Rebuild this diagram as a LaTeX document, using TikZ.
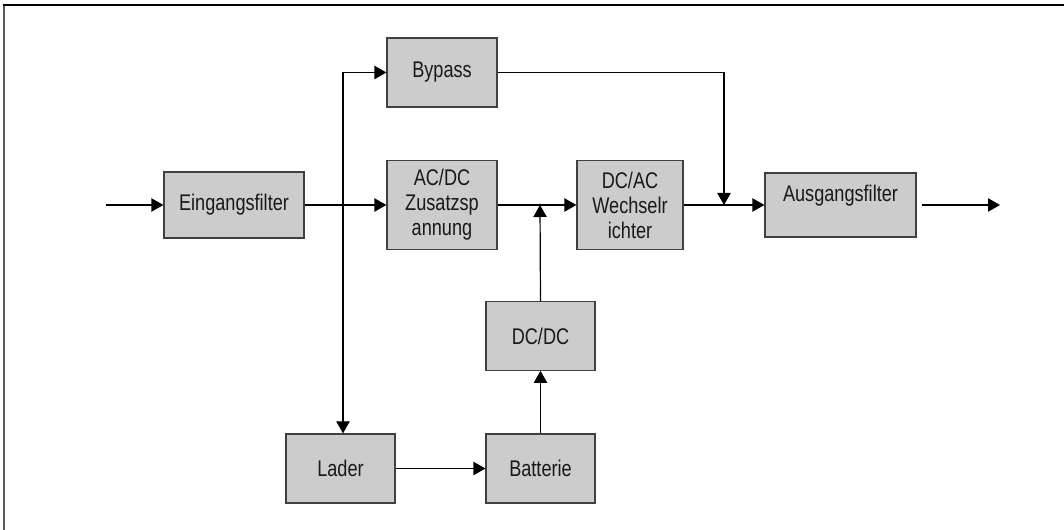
\documentclass[tikz,border=0pt]{standalone}
\usepackage{fontspec}
\setmainfont[FakeStretch=0.8]{Liberation Sans}
\usetikzlibrary{arrows.meta}

\begin{document}
\begin{tikzpicture}[
    x=0.75pt, y=-0.75pt,
    block/.style={draw=black!75, line width=0.9pt, fill=black!20, align=center, text=black!90,
        inner sep=2pt, font=\fontsize{17}{18.75}\selectfont},
    arr/.style={-{Triangle[length=9pt, width=10pt]}, line width=0.9pt},
]
\useasboundingbox (0,0) rectangle (1064,530);
% frame
\draw[line width=2pt, black!65] (4,530) -- (4,5);
\draw[line width=1.5pt] (3,5) -- (1064,5);

\node[block, minimum width=105pt, minimum height=49.5pt] (ein) at (234,205) {Eingangsfilter};
\node[block, minimum width=82.5pt, minimum height=51.75pt] (bypass) at (442,72.5) {Bypass};
\node[block, minimum width=82.5pt, minimum height=66.75pt] (acdc) at (442,205) {AC/DC\\Zusatzsp\\annung};
\node[block, minimum width=79.5pt, minimum height=66.75pt] (dcac) at (630,205) {DC/AC\\Wechselr\\ichter};
\node[block, minimum width=113.25pt, minimum height=48pt, align=left, text depth=18pt] (aus) at (840.5,205) {Ausgangsfilter};
\node[block, minimum width=81.75pt, minimum height=51.4pt] (dcdc) at (540.5,336) {DC/DC};
\node[block, minimum width=81.75pt, minimum height=51.75pt] (lader) at (340.5,468.5) {Lader};
\node[block, minimum width=81.75pt, minimum height=51.75pt] (batt) at (540.5,468.5) {Batterie};

\coordinate (in) at (106,205);
\coordinate (out) at (1000,205);
\coordinate (j1) at (343,205);
\coordinate (j2) at (540,205);
\coordinate (j3) at (724,205);

\draw[arr] (in) -- (ein);
\draw[arr] (ein) -- (acdc);
\draw[arr] (j1) |- (bypass);
\draw[arr] (j1) -- (j1 |- lader.north);
\draw[arr] (acdc) -- (dcac);
\draw[arr] (dcdc.north) -- (j2);
\draw[arr] (batt) -- (dcdc);
\draw[arr] (lader) -- (batt);
\draw[arr] (dcac) -- (aus);
\draw[arr] (bypass) -| (j3);
\draw[arr] ([xshift=4pt]aus.east) -- (out);
\end{tikzpicture}
\end{document}
